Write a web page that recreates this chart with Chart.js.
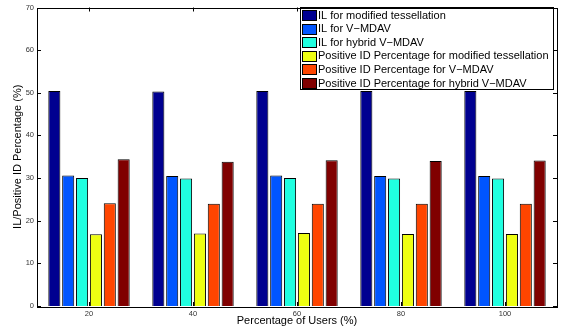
<!DOCTYPE html>
<html>
<head>
<meta charset="utf-8">
<script src="https://cdn.jsdelivr.net/npm/chart.js@4/dist/chart.umd.min.js"></script>
<style>
html,body{margin:0;padding:0;background:#fff;}
#wrap{width:564px;height:331px;position:relative;}
</style>
</head>
<body>
<div id="wrap"><canvas id="c" width="564" height="331"></canvas></div>
<script>
const categories = ['20', '40', '60', '80', '100'];
const ilModified = [50.4, 50.3, 50.4, 50.4, 50.4];
const ilVMDAV = [30.6, 30.5, 30.6, 30.5, 30.5];
const ilHybrid = [30.0, 29.9, 30.0, 29.9, 29.9];
const posModified = [16.8, 17.0, 17.1, 16.9, 16.9];
const posVMDAV = [24.1, 24.0, 24.0, 24.0, 24.0];
const posHybrid = [34.4, 33.8, 34.2, 34.0, 34.1];
const seriesLabels = [
  'IL for modified tessellation',
  'IL for V\u2212MDAV',
  'IL for hybrid V\u2212MDAV',
  'Positive ID Percentage for modified tessellation',
  'Positive ID Percentage for V\u2212MDAV',
  'Positive ID Percentage for hybrid V\u2212MDAV'
];
const yTicks = [0, 10, 20, 30, 40, 50, 60, 70];

const colors = ['#000090', '#0055FF', '#20FFE0', '#EEFF12', '#FF4500', '#800000'];
const seriesData = [ilModified, ilVMDAV, ilHybrid, posModified, posVMDAV, posHybrid];
const FONT = '"Liberation Sans", Arial, Helvetica, sans-serif';

const boxPlugin = {
  id: 'boxPlugin',
  afterDraw(chart) {
    const ctx = chart.ctx;
    const a = chart.chartArea;
    const xs = chart.scales.x, ys = chart.scales.y;
    ctx.save();
    ctx.strokeStyle = '#000';
    ctx.lineWidth = 1;
    ctx.beginPath();
    yTicks.forEach(v => {
      const y = Math.round(ys.getPixelForValue(v)) + 0.5;
      ctx.moveTo(a.left, y); ctx.lineTo(a.left + 4, y);
      ctx.moveTo(a.right, y); ctx.lineTo(a.right - 4, y);
    });
    categories.forEach((c, i) => {
      const x = Math.round(xs.getPixelForValue(i)) + 0.5;
      ctx.moveTo(x, a.bottom); ctx.lineTo(x, a.bottom - 4);
      ctx.moveTo(x, a.top); ctx.lineTo(x, a.top + 4);
    });
    ctx.stroke();
    const lx = 300.5, ly = 7.5, lw = 253, lh = 82;
    ctx.fillStyle = '#fff';
    ctx.fillRect(lx, ly, lw, lh);
    ctx.strokeRect(lx, ly, lw, lh);
    ctx.font = '11px ' + FONT;
    ctx.textBaseline = 'middle';
    ctx.textAlign = 'left';
    chart.data.datasets.forEach((ds, i) => {
      const cy = 15 + i * 13.6;
      ctx.fillStyle = ds.backgroundColor;
      ctx.fillRect(302.5, Math.round(cy - 5) + 0.5, 14, 10);
      ctx.strokeRect(302.5, Math.round(cy - 5) + 0.5, 14, 10);
      ctx.fillStyle = '#000';
      ctx.fillText(ds.label, 318, cy + 0.5);
    });
    ctx.strokeRect(Math.round(a.left) + 0.5, Math.round(a.top) + 0.5,
                   Math.round(a.right - a.left), Math.round(a.bottom - a.top));
    ctx.restore();
  }
};

new Chart(document.getElementById('c'), {
  type: 'bar',
  data: {
    labels: categories,
    datasets: seriesData.map((d, i) => ({
      label: seriesLabels[i],
      data: d,
      backgroundColor: colors[i],
      borderColor: '#000',
      borderWidth: 1,
      categoryPercentage: 0.8,
      barPercentage: 0.87
    }))
  },
  options: {
    responsive: false,
    animation: false,
    layout: { padding: { top: 6, right: 7, left: 0, bottom: 0 } },
    plugins: { legend: { display: false }, tooltip: { enabled: false } },
    scales: {
      x: {
        offset: true,
        grid: { display: false, drawTicks: false },
        border: { display: false },
        ticks: { font: { size: 7.5, family: FONT }, color: '#333', padding: 3, maxRotation: 0 },
        title: { display: true, text: 'Percentage of Users (%)', font: { size: 11, family: FONT }, color: '#000', padding: { top: 0, bottom: 3 } },
        afterFit(s) { s.height = 25; }
      },
      y: {
        min: 0, max: 70,
        afterBuildTicks(s) { s.ticks = yTicks.map(v => ({ value: v })); },
        grid: { display: false, drawTicks: false },
        border: { display: false },
        ticks: { font: { size: 7.5, family: FONT }, color: '#333', padding: 3 },
        title: { display: true, text: 'IL/Positive ID Percentage (%)', font: { size: 11, family: FONT }, color: '#000', padding: { top: 11, bottom: 0 } },
        afterFit(s) { s.width = 37; }
      }
    }
  },
  plugins: [boxPlugin]
});
</script>
</body>
</html>
